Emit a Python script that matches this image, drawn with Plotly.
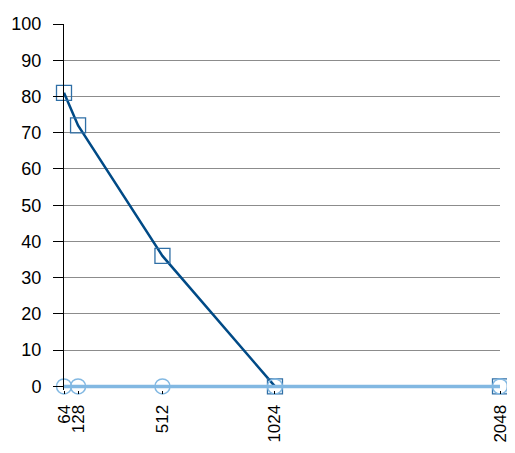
import plotly.graph_objects as go

# block sizes on the x axis
sizes = [64, 128, 512, 1024, 2048]
# two series
series_a = [81, 72, 36, 0, 0]
series_b = [0, 0, 0, 0, 0]
y_ticks = [0, 10, 20, 30, 40, 50, 60, 70, 80, 90, 100]

fig = go.Figure()

fig.add_trace(go.Scatter(
    x=sizes, y=series_a, mode='lines+markers',
    line=dict(color='#004a86', width=2.5),
    marker=dict(symbol='square-open', size=15,
                color='#2f6fa6', line=dict(width=1.3)),
    cliponaxis=False,
))

fig.add_trace(go.Scatter(
    x=sizes, y=series_b, mode='lines+markers',
    line=dict(color='#82b8e2', width=3.5),
    marker=dict(symbol='circle-open', size=15,
                color='#82b8e2', line=dict(width=1.5)),
    cliponaxis=False,
))

# the page body has an 8px margin, so the figure is a little smaller;
# y range starts just under 0 so the flat series is not clipped
fig.update_layout(
    width=507, height=437,
    margin=dict(l=56, r=15, t=16, b=55.4, autoexpand=False),
    plot_bgcolor='white', paper_bgcolor='white',
    showlegend=False,
    font=dict(family='Liberation Sans, Arial, sans-serif', color='black'),
    xaxis=dict(
        range=[64, 2048], tickvals=sizes, ticktext=[str(s) for s in sizes],
        tickangle=-90, ticks='outside', ticklen=3, tickcolor='black',
        showgrid=False, zeroline=False, showline=False, automargin=False,
        tickfont=dict(size=17), ticklabelstandoff=4,
        ticklabeloverflow='allow',
    ),
    yaxis=dict(
        range=[-1, 100], tickvals=y_ticks,
        ticks='outside', ticklen=10, tickcolor='black',
        showgrid=True, gridcolor='#8c8c8c', gridwidth=1,
        zeroline=False, showline=True, linecolor='black', linewidth=1,
        tickfont=dict(size=18), automargin=False, ticklabelstandoff=8,
    ),
)

fig.write_html("out.html")
